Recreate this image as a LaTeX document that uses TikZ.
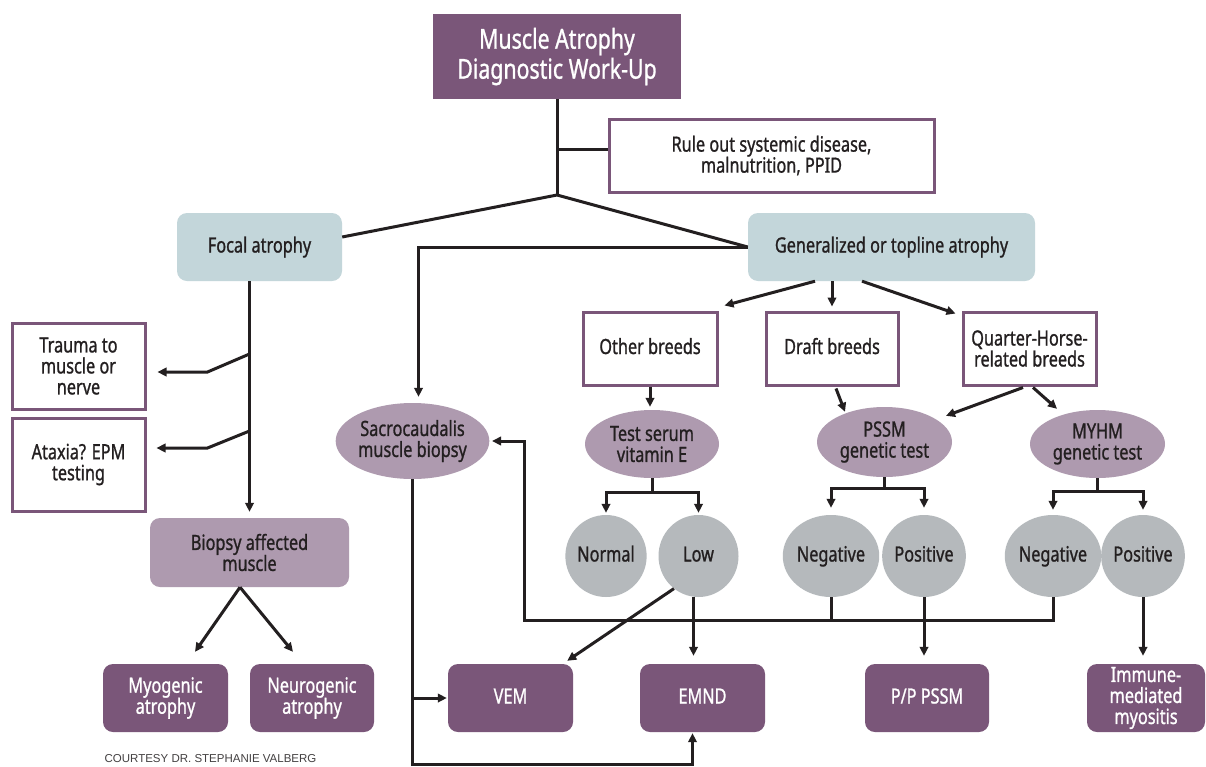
\documentclass[tikz,border=0pt]{standalone}
\usepackage{fontspec}
\setmainfont{Noto Sans}[FakeStretch=0.775,FakeBold=1]
\newfontfamily\credfont{Liberation Sans}
\usetikzlibrary{arrows.meta,shapes.geometric,calc}
\definecolor{ink}{HTML}{231F20}
\definecolor{plum}{HTML}{7A5679}
\definecolor{mauve}{HTML}{AE9AAF}
\definecolor{teal}{HTML}{C3D6DA}
\definecolor{greyc}{HTML}{B5B9BC}
\tikzset{
  base/.style={align=center, text=ink, font=\fontsize{21}{21}\selectfont, inner sep=0pt},
  one/.style={text height=15.5pt, text depth=4.5pt},
  darkbox/.style={base, rectangle, rounded corners=10pt, fill=plum, text=white},
  tealbox/.style={base, rectangle, rounded corners=10pt, fill=teal},
  mauvebox/.style={base, rectangle, rounded corners=10pt, fill=mauve},
  whitebox/.style={base, rectangle, fill=white, draw=plum, line width=3pt},
  oval/.style={base, ellipse, fill=mauve},
  result/.style={base, one, ellipse, fill=greyc, minimum width=80pt, minimum height=82pt},
  line/.style={draw=ink, line width=3pt},
  arr/.style={-{Triangle[length=9pt,width=8.5pt]}}
}
\begin{document}
\begin{tikzpicture}[x=1pt,y=-1pt]
\useasboundingbox (0,0) rectangle (1206,766);
\fill[white] (0,0) rectangle (1206,766);

% nodes
\node[base, rectangle, fill=plum, text=white, font=\fontsize{27.5}{30}\selectfont,
  minimum width=248pt, minimum height=85pt] (title) at (557,56.5) {Muscle Atrophy\\Diagnostic Work-Up};
\node[whitebox, minimum width=325pt, minimum height=73pt] (rule) at (771.5,155.5) {Rule out systemic disease,\\malnutrition, PPID};
\node[tealbox, one, minimum width=165pt, minimum height=68pt] (focal) at (259.5,247) {Focal atrophy};
\node[tealbox, one, minimum width=287pt, minimum height=68pt] (gen) at (891.5,247) {Generalized or topline atrophy};
\node[whitebox, minimum width=133pt, minimum height=86pt] (trauma) at (78.5,366) {Trauma to\\muscle or\\nerve};
\node[whitebox, minimum width=133pt, minimum height=93pt] (ataxia) at (78.5,464.5) {Ataxia? EPM\\testing};
\node[mauvebox, minimum width=199pt, minimum height=69pt] (biopsy) at (249.5,552.5) {Biopsy affected\\muscle};
\node[darkbox, minimum width=125pt, minimum height=68pt] (myog) at (165.5,698) {Myogenic\\atrophy};
\node[darkbox, minimum width=124pt, minimum height=68pt] (neurog) at (312,698) {Neurogenic\\atrophy};
\node[oval, minimum width=151pt, minimum height=76pt] (sacro) at (412.5,441) {Sacrocaudalis\\muscle biopsy};
\node[whitebox, one, minimum width=134pt, minimum height=73pt] (other) at (650,348.5) {Other breeds};
\node[whitebox, one, minimum width=132pt, minimum height=73pt] (draft) at (832,348.5) {Draft breeds};
\node[whitebox, minimum width=133pt, minimum height=73pt] (qh) at (1029.5,348.5) {Quarter-Horse-\\related breeds};
\node[oval, minimum width=134pt, minimum height=68pt] (teste) at (652,444) {Test serum\\vitamin E};
\node[oval, minimum width=135pt, minimum height=70pt] (pssm) at (884.5,442) {PSSM\\genetic test};
\node[oval, minimum width=135pt, minimum height=68pt] (myhm) at (1097.5,444) {MYHM\\genetic test};
\node[result] (normal) at (606,556) {Normal};
\node[result] (low) at (698.5,556) {Low};
\node[result] (neg1) at (831,556) {Negative};
\node[result] (pos1) at (924,556) {Positive};
\node[result] (neg2) at (1053,556) {Negative};
\node[result] (pos2) at (1143,556) {Positive};
\node[darkbox, one, minimum width=125pt, minimum height=68pt] (vem) at (510.5,698) {VEM};
\node[darkbox, one, minimum width=125pt, minimum height=68pt] (emnd) at (702.5,698) {EMND};
\node[darkbox, one, minimum width=124pt, minimum height=68pt] (pp) at (927,698) {P/P PSSM};
\node[darkbox, minimum width=118pt, minimum height=68pt] (imm) at (1146,698) {Immune-\\mediated\\myositis};
\node[inner sep=0pt, text=ink!85, font=\credfont\fontsize{11.5}{13}\selectfont] (credit) at (210.5,759) {COURTESY DR. STEPHANIE VALBERG};

% connectors
\coordinate (J) at (557,195);
\coordinate (Jr) at (557,149);
\draw[line] (title.south) -- (J);
\draw[line] (Jr) -- (Jr -| rule.west);
\draw[line] ([yshift=10pt]focal.east) -- (J) -- (gen.west);
\draw[line,arr] (gen.west) -| ([xshift=6pt,yshift=6pt]sacro.north);

\draw[line,arr] (focal.south -| biopsy.north) -- ([yshift=6pt]biopsy.north);
\coordinate (tb) at (249.5,354);
\coordinate (ab) at (249.5,431);
\draw[line,arr] (tb) -- ++(-42,18) -- ($(trauma.east)+(11,6)$);
\draw[line,arr] (ab) -- ++(-42,17) -- ($(ataxia.east)+(10,-16.5)$);
\draw[line,arr] ([xshift=-9.5pt]biopsy.south) -- ($(myog.north)+(29.5,-12)$);
\draw[line,arr] ([xshift=-9.5pt]biopsy.south) -- ($(neurog.north)+(-19,-12)$);

\draw[line,arr] ([xshift=-76.5pt]gen.south) -- ($(other.north east)+(6,-5)$);
\draw[line,arr] (gen.south -| draft.north) -- ([yshift=4pt]draft.north);
\draw[line,arr] ([xshift=-29.5pt]gen.south) -- ($(qh.north west)+(-6,3)$);

\draw[line,arr] (other.south) -- ([yshift=3pt]other.south |- teste.north);
\draw[line,arr] ($(draft.south)+(4,2)$) -- ($(pssm.north)+(-39.5,5)$);
\draw[line,arr] ($(qh.south)+(-6.5,1)$) -- ($(pssm.north)+(61.5,9)$);
\draw[line,arr] ($(qh.south)+(3.5,1)$) -- ($(myhm.north)+(-40.5,-1)$);

\draw[line,arr] (teste.south) -- ++(0,14) -| ([yshift=2pt]normal.north);
\draw[line,arr] (teste.south) -- ++(0,14) -| ([yshift=2pt]low.north);
\draw[line,arr] (pssm.south) -- ++(0,11) -| ([yshift=7pt]neg1.north);
\draw[line,arr] (pssm.south) -- ++(0,11) -| ([yshift=7pt]pos1.north);
\draw[line,arr] (myhm.south) -- ++(0,13) -| ([yshift=5pt]neg2.north);
\draw[line,arr] (myhm.south) -- ++(0,13) -| ([yshift=5pt]pos2.north);

\coordinate (bus) at (524,620);
\draw[line,arr] (neg2.south) -- (neg2.south |- bus) -- (bus) -- (bus |- sacro.east) -- ([xshift=2.5pt]sacro.east);
\draw[line] (neg1.south) -- (neg1.south |- bus);
\draw[line,arr] ([xshift=-5pt]low.south) -- ([xshift=-5pt,yshift=8pt]low.south |- emnd.north);
\draw[line,arr] (pos1.south) -- ([yshift=8pt]pos1.south |- pp.north);
\draw[line,arr] (pos2.south) -- ([yshift=8pt]pos2.south |- imm.north);
\draw[line,arr] (low.233) -- ($(vem.north east)+(-6,-3)$);

\coordinate (bot) at (413,764);
\draw[line,arr] (sacro.south) -- (sacro.south |- bot) -| ([xshift=-10pt,yshift=-1pt]emnd.south);
\draw[line,arr] (sacro.south |- vem.west) -- ([xshift=-1pt]vem.west);
\end{tikzpicture}
\end{document}
